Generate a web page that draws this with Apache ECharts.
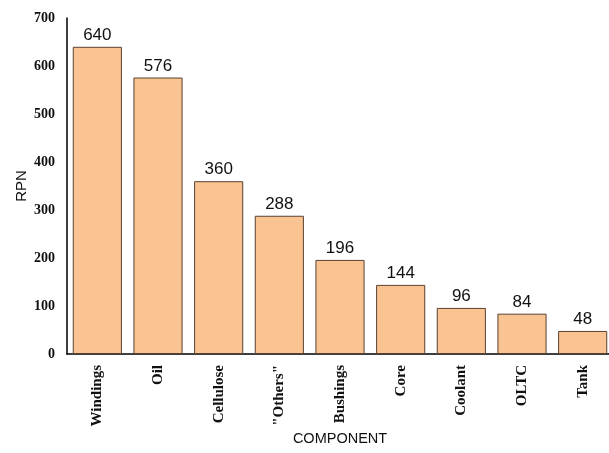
<!DOCTYPE html>
<html>
<head>
<meta charset="utf-8">
<script src="https://cdn.jsdelivr.net/npm/echarts@6/dist/echarts.min.js"></script>
<style>
html,body{margin:0;padding:0;background:#fff;}
#chart{width:609px;height:453px;}
</style>
</head>
<body>
<div id="chart"></div>
<script>
const categories = ['Windings', 'Oil', 'Cellulose', '"Others"', 'Bushings', 'Core', 'Coolant', 'OLTC', 'Tank'];
const rpnValues = [640, 576, 360, 288, 196, 144, 96, 84, 48];
const yTicks = [0, 100, 200, 300, 400, 500, 600, 700];

const chart = echarts.init(document.getElementById('chart'), null, {renderer: 'canvas'});
chart.setOption({
  animation: false,
  backgroundColor: '#ffffff',
  grid: {left: 67, top: 18, right: -4, bottom: 99, containLabel: false, outerBoundsMode: 'none'},
  xAxis: {
    type: 'category',
    data: categories,
    name: 'COMPONENT',
    nameLocation: 'middle',
    nameGap: 77,
    nameMoveOverlap: false,
    nameTextStyle: {fontFamily: 'Liberation Sans, Arial, sans-serif', fontSize: 14.5, color: '#111'},
    axisLine: {show: true, lineStyle: {color: '#000', width: 1.5}},
    axisTick: {show: false},
    axisLabel: {
      rotate: 90,
      margin: 11,
      fontFamily: 'Liberation Serif, Times New Roman, serif',
      fontWeight: 'bold',
      fontSize: 15,
      color: '#111'
    }
  },
  yAxis: {
    type: 'value',
    min: yTicks[0],
    max: yTicks[yTicks.length - 1],
    interval: 100,
    name: 'RPN',
    nameLocation: 'middle',
    nameGap: 38,
    nameMoveOverlap: false,
    nameRotate: 90,
    nameTextStyle: {fontFamily: 'Liberation Sans, Arial, sans-serif', fontSize: 15, color: '#111'},
    axisLine: {show: true, lineStyle: {color: '#000', width: 1.5}},
    axisTick: {show: false},
    splitLine: {show: false},
    axisLabel: {
      margin: 12,
      fontFamily: 'Liberation Serif, Times New Roman, serif',
      fontWeight: 'bold',
      fontSize: 14,
      color: '#111'
    }
  },
  series: [{
    type: 'bar',
    data: rpnValues,
    barCategoryGap: '19%',
    itemStyle: {color: '#F9C492', borderColor: '#5a4030', borderWidth: 1},
    label: {
      show: true,
      position: 'top',
      distance: 3,
      fontFamily: 'Liberation Sans, Arial, sans-serif',
      fontSize: 17,
      color: '#111'
    }
  }]
});
</script>
</body>
</html>
